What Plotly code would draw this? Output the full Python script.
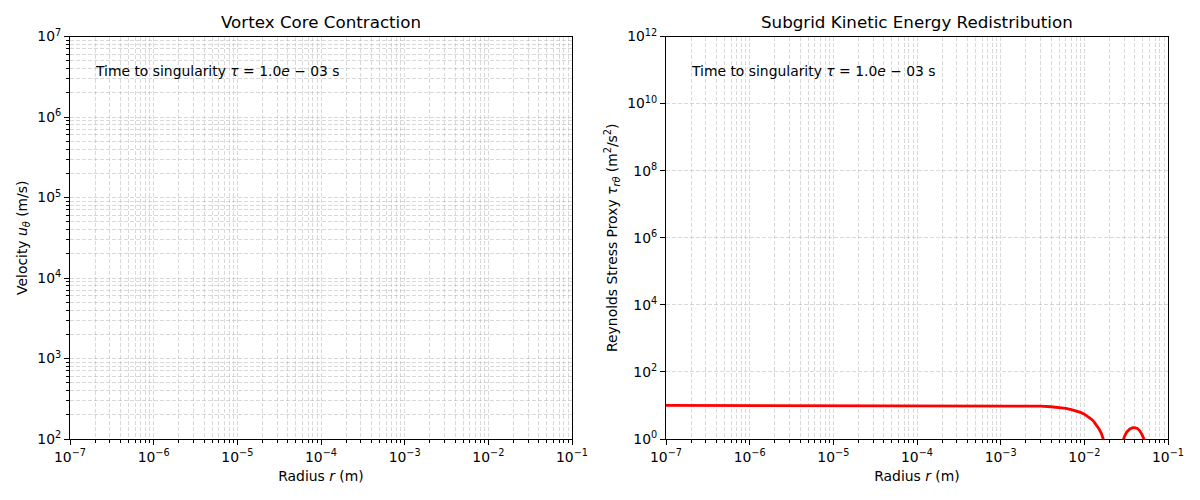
import plotly.graph_objects as go

# Reynolds stress proxy (gap = value goes negative)
radius_r = [1e-7, 1e-6, 1e-5, 1e-4, 5e-4, 1e-3, 2e-3, 3e-3, 4e-3, 5e-3, 6e-3, 7e-3,
            8e-3, 9e-3, 1.0e-2, 1.1e-2, 1.2e-2, 1.3e-2, 1.4e-2, 1.5e-2, 1.6e-2, 1.7e-2,
            1.8e-2, None, 2.8e-2, 3.0e-2, 3.2e-2, 3.5e-2, 3.8e-2, 4.0e-2, 4.3e-2,
            4.6e-2, 4.9e-2, 5.2e-2, 5.4e-2]
stress_tau = [10.0, 10.0, 10.0, 10.0, 9.98, 9.93, 9.75, 9.5, 9.15, 8.7, 8.15, 7.55,
              6.9, 6.2, 5.5, 4.75, 4.0, 3.3, 2.6, 2.0, 1.45, 1.0,
              0.6, None, 0.6, 1.15, 1.6, 2.0, 2.17, 2.17, 2.05,
              1.75, 1.35, 0.95, 0.6]

# left panel has no visible curve (velocity stays outside the plotted window)
radius_u = []
velocity_u = []

tau_label = "Time to singularity <i>τ</i> = 1.0<i>e</i> − 03 s"

x_ticks = [-7, -6, -5, -4, -3, -2, -1]
y_ticks_left = [2, 3, 4, 5, 6, 7]
y_ticks_right = [0, 2, 4, 6, 8, 10, 12]

W, H, PAD = 1200, 500, 8  # page body adds an 8px margin


def px(x):
    return (x - PAD) / W


def py(y):
    return 1 - (y - PAD) / H


def sup(e):
    return "10<sup>%s</sup>" % (str(e).replace("-", "−"))


def minor_vals(lo, hi):
    return [m * 10.0 ** e for e in range(lo, hi) for m in range(2, 10)]


FONT = "DejaVu Sans"
FS = 13.9
GRID = "rgba(170,170,170,0.45)"

fig = go.Figure()

fig.add_trace(go.Scatter(x=radius_u, y=velocity_u, mode="lines",
                         line=dict(color="red", width=2.8),
                         xaxis="x", yaxis="y", showlegend=False))
fig.add_trace(go.Scatter(x=radius_r, y=stress_tau, mode="lines",
                         line=dict(color="red", width=2.8), connectgaps=False,
                         xaxis="x2", yaxis="y2", showlegend=False))

common = dict(type="log", showline=True, mirror=True, linecolor="black", linewidth=1,
              ticks="outside", ticklen=5, tickcolor="black", zeroline=False, automargin=False,
              showgrid=True, gridcolor=GRID, griddash="4px,2px", gridwidth=1,
              tickfont=dict(family=FONT, size=FS, color="black"))

minor_common = dict(showgrid=True, gridcolor=GRID, griddash="4px,2px", gridwidth=1,
                    ticks="outside", ticklen=3, tickcolor="black")

x_title = dict(text="Radius <i>r</i> (m)", font=dict(family=FONT, size=FS, color="black"), standoff=7)
y_dom = [py(439), py(36.5)]

fig.update_layout(
    width=W, height=H,
    margin=dict(l=0, r=0, t=0, b=0, autoexpand=False),
    paper_bgcolor="white", plot_bgcolor="white",
    xaxis=dict(common, domain=[px(70), px(572)], range=[-7, -1], anchor="y",
               tickvals=[10.0 ** e for e in x_ticks], ticktext=[sup(e) for e in x_ticks],
               minor=dict(minor_common, tickvals=minor_vals(-7, -1)), title=x_title),
    yaxis=dict(common, domain=y_dom, range=[2, 7], anchor="x",
               tickvals=[10.0 ** e for e in y_ticks_left], ticktext=[sup(e) for e in y_ticks_left],
               minor=dict(minor_common, tickvals=minor_vals(2, 7)),
               title=dict(text="Velocity <i>u</i><sub><i>θ</i></sub> (m/s)",
                          font=dict(family=FONT, size=FS, color="black"), standoff=6)),
    xaxis2=dict(common, domain=[px(666), px(1168)], range=[-7, -1], anchor="y2",
                tickvals=[10.0 ** e for e in x_ticks], ticktext=[sup(e) for e in x_ticks],
                minor=dict(minor_common, tickvals=minor_vals(-7, -1)), title=x_title),
    yaxis2=dict(common, domain=y_dom, range=[0, 12], anchor="x2",
                tickvals=[10.0 ** e for e in y_ticks_right], ticktext=[sup(e) for e in y_ticks_right],
                title=dict(text="Reynolds Stress Proxy <i>τ</i><sub><i>rθ</i></sub> (m<sup>2</sup>/s<sup>2</sup>)",
                           font=dict(family=FONT, size=FS, color="black"), standoff=6)),
    annotations=[
        dict(text="Vortex Core Contraction", x=px(321), y=py(22), xref="paper", yref="paper",
             xanchor="center", yanchor="middle", showarrow=False,
             font=dict(family=FONT, size=16.7, color="black")),
        dict(text="Subgrid Kinetic Energy Redistribution", x=px(917), y=py(22),
             xref="paper", yref="paper", xanchor="center", yanchor="middle", showarrow=False,
             font=dict(family=FONT, size=16.7, color="black")),
        dict(text=tau_label, x=0.045, y=0.915, xref="x domain", yref="y domain",
             xanchor="left", yanchor="middle", showarrow=False,
             font=dict(family=FONT, size=FS, color="black")),
        dict(text=tau_label, x=0.045, y=0.915, xref="x2 domain", yref="y2 domain",
             xanchor="left", yanchor="middle", showarrow=False,
             font=dict(family=FONT, size=FS, color="black")),
    ],
)

fig.write_html("out.html")
